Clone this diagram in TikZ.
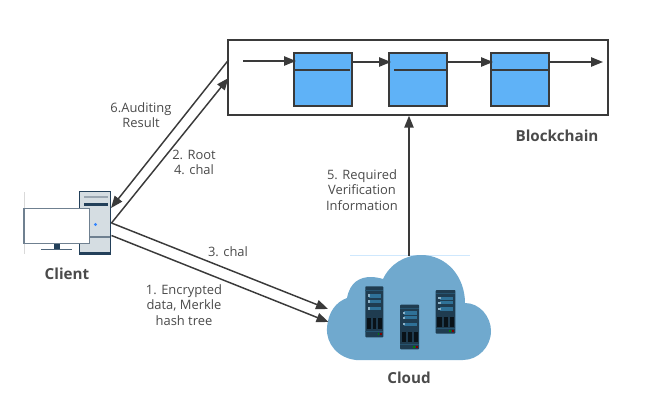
\documentclass[tikz,border=0pt]{standalone}
\usepackage{fontspec}
\setmainfont{Open Sans}
\usetikzlibrary{arrows.meta,calc}
\definecolor{ink}{HTML}{3A3A3A}
\definecolor{txt}{HTML}{4A4A4A}
\definecolor{blockfill}{HTML}{5FB2F7}
\definecolor{cloudfill}{HTML}{70A9CE}
\definecolor{towerfill}{HTML}{D5DDE2}
\definecolor{darkslate}{HTML}{23405A}
\definecolor{monedge}{HTML}{6F8090}
\definecolor{srv}{HTML}{1F3C50}
\definecolor{srvlight}{HTML}{2F7197}
\tikzset{
  conn/.style={draw=ink,line width=1.1pt,-{Triangle[length=9pt,width=7pt]}},
  chainbox/.style={draw=ink,line width=1.3pt,fill=white,minimum width=285pt,minimum height=56pt,inner sep=0pt},
  blockbox/.style={draw=ink,line width=1.3pt,fill=blockfill,minimum width=43.5pt,minimum height=39.5pt,inner sep=0pt},
  lab/.style={text=txt,font=\fontsize{9.7}{11.4}\selectfont,align=center,inner sep=0pt},
  title/.style={text=txt,font=\fontsize{11.4}{13}\selectfont\bfseries,inner sep=0pt},
}
% server: #1 left, #2 top, #3 width, #4 height (pixels)
\newcommand{\serverrack}[4]{%
  \begin{scope}[shift={(#1,#2)},x={(#3*0.75pt,0)},y={(0,-#4*0.75pt)}]
    \fill[srv,rounded corners=0.6pt] (0,0) rectangle (1,1);
    \fill[srvlight!45!srv] (0,.065) rectangle (1,.09);
    \foreach \yy in {.15,.26,.40}{
      \fill[srvlight] (.2,\yy) rectangle (.88,\yy+.07);
      \fill[white!45!srvlight] (.14,\yy+.01) rectangle (.26,\yy+.06);
    }
    \foreach \xx in {.08,.4,.72}{\fill[black!70!srv] (\xx,.62) rectangle (\xx+.22,.84);}
    \fill[srvlight!45!srv] (0,.87) rectangle (1,.89);
    \fill[green!50!black] (.68,.92) rectangle (.78,.96);
    \fill[red!50!black] (.84,.92) rectangle (.94,.96);
  \end{scope}}
\begin{document}
\begin{tikzpicture}[x=0.75pt,y=-0.75pt]
\useasboundingbox (0,0) rectangle (668,407);
% blockchain
\node[chainbox] (chain) at (418,77.5) {};
\node[blockbox] (b1) at (322.75,79.5) {};
\node[blockbox] (b2) at (418.25,79.5) {};
\node[blockbox] (b3) at (520.25,79.5) {};
\draw[ink,line width=1.2pt] (293,70) -- (350,70);
\draw[ink,line width=1.2pt] (394,70) -- (446,70);
\draw[ink,line width=1.2pt] (492,70) -- (549,70);
\coordinate (in) at (243,61);
\coordinate (b1in) at (296,61);
\coordinate (b1out) at (352,62);
\coordinate (b2in) at (391,62);
\coordinate (b2out) at (447.5,62);
\coordinate (b3in) at (493,62);
\coordinate (b3out) at (549.5,62);
\coordinate (out) at (603,62);
\draw[conn] (in) -- (b1in);
\draw[conn] (b1out) -- (b2in);
\draw[conn] (b2out) -- (b3in);
\draw[conn] (b3out) -- (out);
\node[title,anchor=center] (blocktitle) at (557,136) {Blockchain};
% client
\draw[black!15,line width=0.6pt] (24,192) -- (24,254);
\fill[darkslate] (79,191) rectangle (111,255);
\node[draw=darkslate,line width=1pt,fill=towerfill,minimum width=23pt,minimum height=46pt,inner sep=0pt] (tower) at (95,222) {};
\fill[darkslate] (84,203) rectangle (108,206);
\fill[monedge!70] (84,195.5) rectangle (108,197.5);
\draw[monedge,line width=0.8pt] (80,237) -- (110,237);
\fill[blue!60!cyan!80!white] (95.5,224.5) circle (1.6);
\fill[darkslate] (54,243) rectangle (60,249);
\draw[darkslate!80,line width=1.2pt] (41,249.5) -- (72,249.5);
\node[draw=monedge,line width=1pt,fill=white,minimum width=49pt,minimum height=26pt,inner sep=0pt] (monitor) at (56.5,226) {};
\node[title] (clienttitle) at (67,274) {Client};
% cloud
\draw[blockfill!30,line width=0.6pt] (350,255) -- (470,255);
\fill[cloudfill] (356,360)
  .. controls (338,358) and (326,344) .. (327,328)
  .. controls (328,312) and (336,302) .. (347,298)
  .. controls (350,282) and (360,277) .. (371,277)
  .. controls (375,277) and (380,278) .. (383,279)
  .. controls (390,264) and (405,255) .. (421,255)
  .. controls (447,255) and (465,277) .. (465,303)
  .. controls (480,303) and (491,317) .. (491,331)
  .. controls (491,347) and (478,360) .. (463,360)
  -- cycle;
\coordinate (cloudtop) at (409,256);
\coordinate (cloudin1) at (328,309);
\coordinate (cloudin2) at (328.5,322);
\serverrack{365.3}{286.3}{18}{51}
\serverrack{400}{304.7}{19}{44.6}
\serverrack{435.7}{290}{19.6}{43.7}
\node[title] (cloudtitle) at (409,378) {Cloud};
% connectors
\coordinate (ch6) at (228.5,60);
\coordinate (cl6) at (111,208);
\coordinate (ch2) at (228.5,78);
\coordinate (cl2) at (111.5,223);
\coordinate (cl3) at (111.5,223);
\coordinate (cl1) at (111.5,235.5);
\draw[conn] (ch6) -- (cl6);
\draw[conn] (cl2) -- (ch2);
\draw[conn] (cl3) -- (cloudin1);
\draw[conn] (cl1) -- (cloudin2);
\draw[conn] (cloudtop) -- (chain.south -| cloudtop);
% labels
\node[lab] (l6) at (141,115) {6.Auditing\\Result};
\node[lab] (l2) at (194,162.5) {2. Root\\4. chal};
\node[lab] (l3) at (228,252) {3. chal};
\node[lab] (l1) at (184,305) {1. Encrypted\\data, Merkle\\hash tree};
\node[lab] (l5) at (362,190) {5. Required\\Verification\\Information};
\end{tikzpicture}
\end{document}
